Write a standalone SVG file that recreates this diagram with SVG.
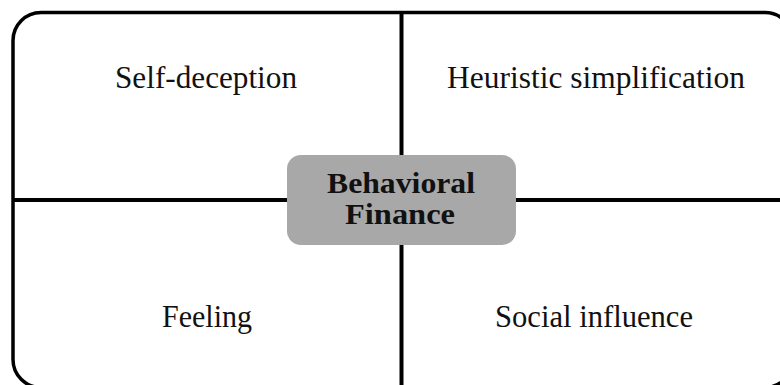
<svg xmlns="http://www.w3.org/2000/svg" width="780" height="385" viewBox="0 0 780 385">
<style>
.frame{fill:none;stroke:#000;stroke-width:3.5}
.line{stroke:#000;stroke-width:4}
.lbl{font-family:"Liberation Serif","Times New Roman",serif;font-size:31px;fill:#111;text-anchor:middle}
.ctr{font-family:"Liberation Serif","Times New Roman",serif;font-size:30px;font-weight:bold;fill:#111;text-anchor:middle}
</style>
<rect class="frame" x="13" y="12.5" width="780" height="375" rx="28" ry="28"/>
<g id="connectors">
<line class="line" x1="401.5" y1="12" x2="401.5" y2="155"/>
<line class="line" x1="401.5" y1="245" x2="401.5" y2="390"/>
<line class="line" x1="13" y1="200" x2="287" y2="200"/>
<line class="line" x1="516" y1="200" x2="790" y2="200"/>
</g>
<g id="center">
<rect x="287" y="155" width="229" height="90" rx="14" ry="14" fill="#a8a8a8"/>
<text class="ctr" x="401" y="193" textLength="148" lengthAdjust="spacingAndGlyphs">Behavioral</text>
<text class="ctr" x="400" y="224" textLength="110" lengthAdjust="spacingAndGlyphs">Finance</text>
</g>
<g id="self-deception"><text class="lbl" x="206" y="88" textLength="182" lengthAdjust="spacingAndGlyphs">Self-deception</text></g>
<g id="heuristic"><text class="lbl" x="596" y="88" textLength="298" lengthAdjust="spacingAndGlyphs">Heuristic simplification</text></g>
<g id="feeling"><text class="lbl" x="207" y="327" textLength="90" lengthAdjust="spacingAndGlyphs">Feeling</text></g>
<g id="social"><text class="lbl" x="594" y="327" textLength="198" lengthAdjust="spacingAndGlyphs">Social influence</text></g>
</svg>
